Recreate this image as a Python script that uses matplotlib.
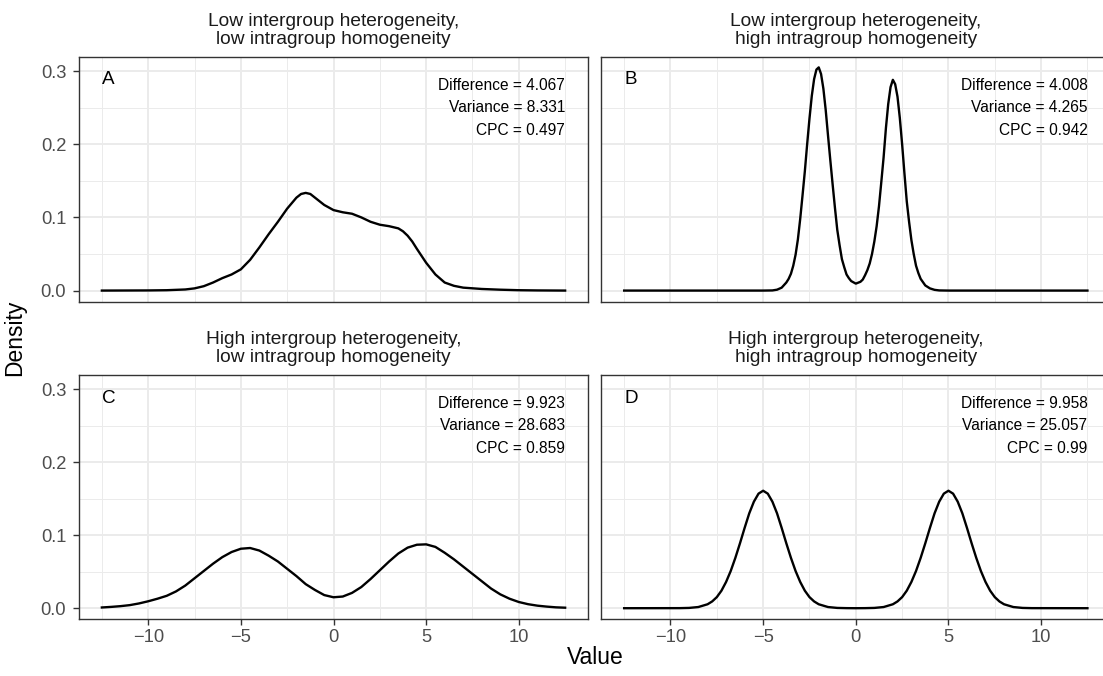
import matplotlib
matplotlib.use("Agg")
from matplotlib import pyplot as plt
from matplotlib.ticker import MultipleLocator, FormatStrFormatter

plt.rcParams['font.family'] = ['Liberation Sans', 'DejaVu Sans']

# panel A: low inter / low intra
a_x = [-12.5, -10, -9, -8, -7.5, -7, -6.5, -6, -5.5, -5, -4.5, -4, -3.5, -3, -2.5, -2, -1.75,
       -1.5, -1.25, -1, -0.5, 0, 0.5, 1, 1.5, 2, 2.5, 3, 3.5, 3.75, 4, 4.25, 4.5, 5, 5.5, 6,
       6.5, 7, 8, 9, 10, 11, 12.5]
a_y = [0.0, 0.0002, 0.0005, 0.0015, 0.003, 0.006, 0.011, 0.017, 0.022, 0.029, 0.042, 0.059,
       0.077, 0.094, 0.112, 0.127, 0.132, 0.1335, 0.132, 0.127, 0.117, 0.110, 0.107, 0.105,
       0.100, 0.094, 0.090, 0.088, 0.085, 0.081, 0.075, 0.067, 0.057, 0.038, 0.022, 0.011,
       0.0065, 0.004, 0.0022, 0.0012, 0.0005, 0.0002, 0.0]

# panel B: low inter / high intra
b_x = [-12.5, -5, -4.5, -4.25, -4, -3.75, -3.625, -3.5, -3.375, -3.25, -3.125, -3, -2.875,
       -2.75, -2.625, -2.5, -2.375, -2.25, -2.125, -2, -1.875, -1.75, -1.625, -1.5, -1.375,
       -1.25, -1.125, -1, -0.875, -0.75, -0.625, -0.5, -0.375, -0.25, 0, 0.25, 0.375, 0.5,
       0.625, 0.75, 0.875, 1, 1.125, 1.25, 1.375, 1.5, 1.625, 1.75, 1.875, 2, 2.125, 2.25,
       2.375, 2.5, 2.625, 2.75, 2.875, 3, 3.125, 3.25, 3.375, 3.5, 3.75, 4, 4.25, 4.5, 5, 12.5]
b_y = [0.0, 0.0, 0.0002, 0.0012, 0.004, 0.011, 0.016, 0.023, 0.034, 0.049, 0.070, 0.098,
       0.130, 0.163, 0.200, 0.235, 0.266, 0.289, 0.302, 0.305, 0.296, 0.276, 0.247, 0.212,
       0.178, 0.145, 0.113, 0.083, 0.062, 0.043, 0.032, 0.022, 0.017, 0.013, 0.0095, 0.012,
       0.015, 0.021, 0.028, 0.037, 0.050, 0.067, 0.088, 0.115, 0.148, 0.182, 0.222, 0.255,
       0.278, 0.288, 0.282, 0.265, 0.236, 0.200, 0.160, 0.122, 0.094, 0.069, 0.050, 0.034,
       0.024, 0.016, 0.007, 0.003, 0.001, 0.0002, 0.0, 0.0]

# panel C: high inter / low intra
c_x = [-12.5, -12, -11.5, -11, -10.5, -10, -9.5, -9, -8.5, -8, -7.5, -7, -6.5, -6, -5.5, -5,
       -4.5, -4, -3.5, -3, -2.5, -2, -1.5, -1, -0.5, 0, 0.5, 1, 1.5, 2, 2.5, 3, 3.5, 4, 4.5,
       5, 5.5, 6, 6.5, 7, 7.5, 8, 8.5, 9, 9.5, 10, 10.5, 11, 11.5, 12, 12.5]
c_y = [0.001, 0.0018, 0.0028, 0.0042, 0.0065, 0.0095, 0.013, 0.017, 0.023, 0.031, 0.041,
       0.051, 0.061, 0.070, 0.077, 0.0815, 0.0825, 0.079, 0.072, 0.064, 0.054, 0.044, 0.033,
       0.025, 0.018, 0.015, 0.016, 0.021, 0.029, 0.040, 0.052, 0.064, 0.075, 0.083, 0.087,
       0.0875, 0.084, 0.076, 0.067, 0.057, 0.047, 0.037, 0.027, 0.019, 0.013, 0.0085, 0.0055,
       0.0035, 0.0022, 0.0012, 0.0007]

# panel D: high inter / high intra
d_x = [-12.5, -9.5, -9, -8.5, -8, -7.75, -7.5, -7.25, -7, -6.75, -6.5, -6.25, -6, -5.75,
       -5.5, -5.25, -5, -4.75, -4.5, -4.25, -4, -3.75, -3.5, -3.25, -3, -2.75, -2.5, -2.25,
       -2, -1.5, -1, -0.5, 0, 0.5, 1, 1.5, 2, 2.25, 2.5, 2.75, 3, 3.25, 3.5, 3.75, 4, 4.25,
       4.5, 4.75, 5, 5.25, 5.5, 5.75, 6, 6.25, 6.5, 6.75, 7, 7.25, 7.5, 7.75, 8, 8.5, 9, 9.5,
       12.5]
d_y = [0.0, 0.0001, 0.0004, 0.0016, 0.0054, 0.0093, 0.0152, 0.024, 0.036, 0.051, 0.069,
       0.089, 0.110, 0.130, 0.146, 0.157, 0.161, 0.157, 0.146, 0.130, 0.110, 0.089, 0.069,
       0.051, 0.036, 0.024, 0.0152, 0.0093, 0.0054, 0.0016, 0.0004, 0.0001, 0.0, 0.0001,
       0.0004, 0.0016, 0.0054, 0.0093, 0.0152, 0.024, 0.036, 0.051, 0.069, 0.089, 0.110,
       0.130, 0.146, 0.157, 0.161, 0.157, 0.146, 0.130, 0.110, 0.089, 0.069, 0.051, 0.036,
       0.024, 0.0152, 0.0093, 0.0054, 0.0016, 0.0004, 0.0001, 0.0]

titles = ["Low intergroup heterogeneity,\nlow intragroup homogeneity",
          "Low intergroup heterogeneity,\nhigh intragroup homogeneity",
          "High intergroup heterogeneity,\nlow intragroup homogeneity",
          "High intergroup heterogeneity,\nhigh intragroup homogeneity"]
letters = ["A", "B", "C", "D"]
differences = ["4.067", "4.008", "9.923", "9.958"]
variances = ["8.331", "4.265", "28.683", "25.057"]
cpcs = ["0.497", "0.942", "0.859", "0.99"]

curves = [(a_x, a_y), (b_x, b_y), (c_x, c_y), (d_x, d_y)]

W, H = 1103, 676
fig = plt.figure(figsize=(W / 100, H / 100), dpi=100)

# panel boxes in pixels: left, top, right, bottom
boxes = [(78.7, 56.7, 588.3, 301.7), (601, 56.7, 1110.6, 301.7),
         (78.7, 375, 588.3, 619.3), (601, 375, 1110.6, 619.3)]

grey20 = "#333333"
for i, (l, t, r, b) in enumerate(boxes):
    ax = fig.add_axes([l / W, 1 - b / H, (r - l) / W, (b - t) / H])
    x, y = curves[i]
    ax.plot(x, y, color="black", lw=1.7, zorder=3)
    ax.set_xlim(-13.75, 13.75)
    ax.set_ylim(-0.0152, 0.3196)
    ax.xaxis.set_major_locator(MultipleLocator(5))
    ax.xaxis.set_minor_locator(MultipleLocator(2.5))
    ax.yaxis.set_major_locator(MultipleLocator(0.1))
    ax.yaxis.set_minor_locator(MultipleLocator(0.05))
    ax.yaxis.set_major_formatter(FormatStrFormatter("%.1f"))
    ax.grid(which="major", color="#EBEBEB", lw=1.4)
    ax.grid(which="minor", color="#EBEBEB", lw=0.7)
    ax.set_axisbelow(True)
    for s in ax.spines.values():
        s.set_color(grey20)
        s.set_linewidth(1.0)
    ax.tick_params(which="minor", length=0)
    ax.tick_params(which="major", length=4.5, width=1.0, color=grey20,
                   labelcolor="#4D4D4D", labelsize=13.2)
    ax.tick_params(axis="x", pad=2.3)
    ax.tick_params(axis="y", pad=4.5)
    if i % 2 == 1:
        ax.tick_params(axis="y", which="both", left=False, labelleft=False)
    if i < 2:
        ax.tick_params(axis="x", which="both", bottom=False, labelbottom=False)

    ax.text(-12.5, 0.288, letters[i], fontsize=13.6, ha="left", va="center")
    ax.text(12.5, 0.28, "Difference = " + differences[i], fontsize=11.2, ha="right", va="center")
    ax.text(12.5, 0.25, "Variance = " + variances[i], fontsize=11.2, ha="right", va="center")
    ax.text(12.5, 0.219, "CPC = " + cpcs[i], fontsize=11.2, ha="right", va="center")

    fig.text((l + r) / 2 / W, 1 - (t - 9) / H, titles[i], ha="center", va="bottom",
             fontsize=13.8, color="#1A1A1A", linespacing=1.05)

fig.text(595 / W, 1 - 657 / H, "Value", ha="center", va="center", fontsize=16.5)
fig.text(15 / W, 1 - 338 / H, "Density", ha="center", va="center", fontsize=16.5,
         rotation=90)

fig.savefig("out.png", dpi=100)
